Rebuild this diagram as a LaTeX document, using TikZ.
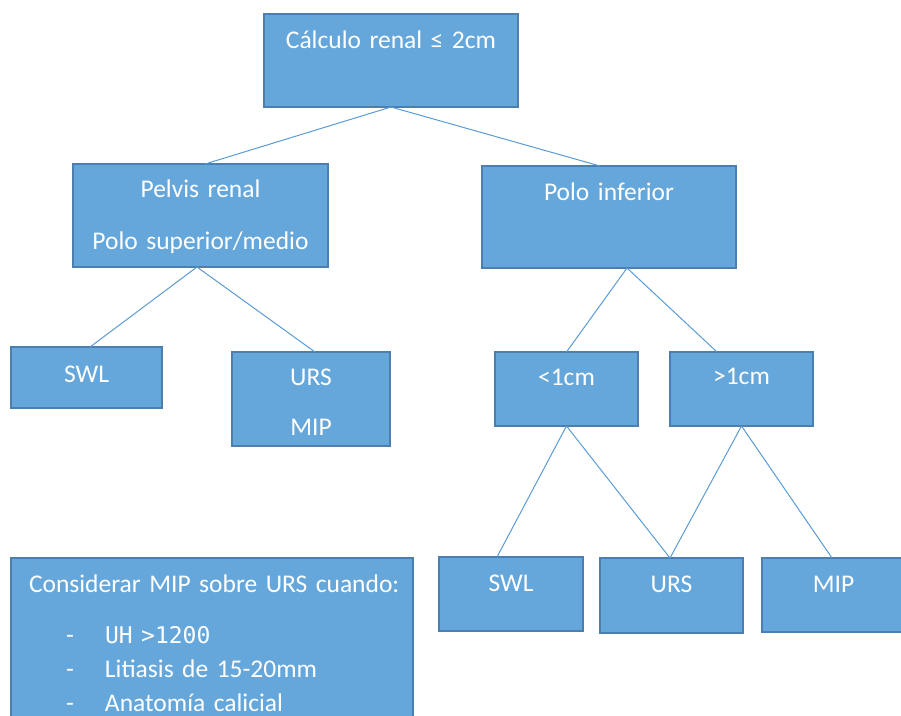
\documentclass[tikz,border=0pt]{standalone}
\usepackage{fontspec}
\setmainfont{Carlito}
\newfontfamily\monofont{DejaVu Sans Mono}
\usepackage{tikz}
\definecolor{boxfill}{HTML}{65A7DB}
\definecolor{boxline}{HTML}{4A7FAF}
\definecolor{linkblue}{HTML}{5B9BD5}

\begin{document}
\begin{tikzpicture}[
    x=1pt, y=-1pt,
    box/.style n args={3}{draw=boxline, fill=boxfill, line width=2pt, text=white, anchor=north west,
        inner sep=0pt, outer sep=0pt, text width=#1, text height=#2, text depth=#3, align=center,
        font=\fontsize{25.5}{30}\selectfont},
    link/.style={draw=linkblue, line width=1pt},
]
    \useasboundingbox (0,0) rectangle (901,715);
    \clip (0,0) rectangle (901,715);

    \node[box={254pt}{34pt}{59pt}] (calc) at (264,14) {Cálculo renal ≤ 2cm};
    \node[box={255pt}{33pt}{70pt}] (pelvis) at (73,164) {Pelvis renal\\[22pt]Polo superior/medio};
    \node[box={254pt}{34pt}{68pt}] (polo) at (482,166) {Polo inferior};

    \node[box={151pt}{35pt}{26pt}] (swlA) at (11,347) {SWL};
    \node[box={158pt}{33pt}{61pt}] (ursmip) at (232,352) {URS\\[20pt]MIP};
    \node[box={143pt}{33pt}{41pt}] (menor) at (495,352) {<1cm};
    \node[box={143pt}{32pt}{42pt}] (mayor) at (670,352) {>1cm};

    \node[box={144pt}{34pt}{40pt}] (swlB) at (439,557) {SWL};
    \node[box={143pt}{34pt}{41pt}] (ursB) at (600,558) {URS};
    \node[box={143pt}{34pt}{40pt}] (mipB) at (762,558) {MIP};

    % nota inferior
    \node[box={402pt}{34pt}{200pt}, align=left, font=\fontsize{25.5}{34}\selectfont] (nota) at (11,558)
        {\hspace*{18pt}Considerar MIP sobre URS cuando:\\[17pt]
         \hspace*{55pt}\makebox[39pt][l]{-}{\monofont\fontsize{23}{34}\selectfont UH >1200}\\
         \hspace*{55pt}\makebox[39pt][l]{-}Litiasis de 15-20mm\\
         \hspace*{55pt}\makebox[39pt][l]{-}Anatomía calicial};

    \draw[link] (calc.south) -- ([xshift=4.5pt]pelvis.north);
    \draw[link] (calc.south) -- ([xshift=-9pt]polo.north);
    \draw[link] ([xshift=-3.5pt]pelvis.south) -- ([xshift=3.5pt]swlA.north);
    \draw[link] ([xshift=-3.5pt]pelvis.south) -- ([xshift=4pt]ursmip.north);
    \draw[link] ([xshift=18pt]polo.south) -- (menor.north);
    \draw[link] ([xshift=18pt]polo.south) -- ([xshift=-24.5pt]mayor.north);
    \draw[link] (menor.south) -- ([xshift=-14pt]swlB.north);
    \draw[link] (menor.south) -- ([xshift=-1.5pt]ursB.north);
    \draw[link] (mayor.south) -- ([xshift=-1.5pt]ursB.north);
    \draw[link] (mayor.south) -- ([xshift=-1.5pt]mipB.north);
\end{tikzpicture}
\end{document}
